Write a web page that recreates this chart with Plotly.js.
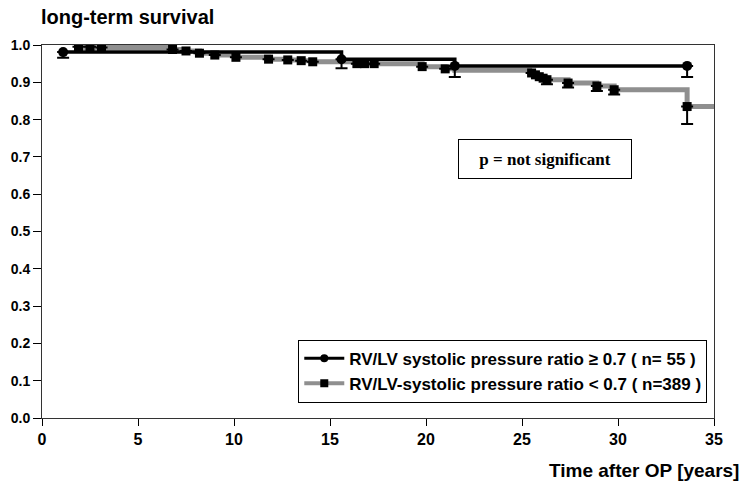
<!DOCTYPE html>
<html><head><meta charset="utf-8">
<script src="https://cdn.plot.ly/plotly-3.0.1.min.js"></script>
<style>body{margin:0;background:#fff}#c{width:745px;height:487px}</style>
</head><body><div id="c"></div>
<script>
// Series 1: RV/LV systolic pressure ratio >= 0.7 (n=55)
const hiStepT = [1.1, 15.6, 21.5, 33.6];
const hiStepS = [0.981, 0.962, 0.944, 0.944];
const hiCensT = [1.1, 15.6, 21.5, 33.6];
const hiCensS = [0.981, 0.962, 0.944, 0.944];
const hiErrLo = [0.015, 0.024, 0.030, 0.030];

// Series 2: RV/LV systolic pressure ratio < 0.7 (n=389)
const loStepT = [1.8, 6.8, 7.5, 8.2, 9.0, 10.1, 11.8, 12.8, 13.5, 14.1, 16.4, 17.3, 19.8, 21.0, 21.5, 25.4, 25.6, 25.8, 26.0, 26.3, 27.4, 28.9, 29.8, 33.6, 35];
const loStepS = [0.993, 0.988, 0.984, 0.978, 0.973, 0.967, 0.962, 0.960, 0.958, 0.955, 0.950, 0.950, 0.942, 0.936, 0.932, 0.925, 0.920, 0.915, 0.911, 0.907, 0.898, 0.890, 0.880, 0.835, 0.835];
const loCensT = [1.9, 2.5, 3.1, 6.8, 7.5, 8.2, 9.0, 10.1, 11.8, 12.8, 13.5, 14.1, 16.4, 16.8, 17.3, 19.8, 21.0, 25.5, 25.7, 25.9, 26.1, 26.3, 27.4, 28.9, 29.8, 33.6];
const loCensS = [0.995, 0.995, 0.993, 0.988, 0.984, 0.978, 0.973, 0.967, 0.962, 0.960, 0.958, 0.955, 0.950, 0.950, 0.950, 0.942, 0.936, 0.925, 0.920, 0.915, 0.911, 0.907, 0.898, 0.890, 0.880, 0.835];
const loErrLo = [0, 0, 0, 0, 0, 0, 0, 0, 0, 0, 0, 0, 0, 0, 0, 0, 0, 0, 0, 0, 0, 0.012, 0.012, 0.013, 0.013, 0.047];

const yTicks = [0, 0.1, 0.2, 0.3, 0.4, 0.5, 0.6, 0.7, 0.8, 0.9, 1.0];
const yTickText = ['0.0','0.1','0.2','0.3','0.4','0.5','0.6','0.7','0.8','0.9','1.0'];
const xTicks = [0, 5, 10, 15, 20, 25, 30, 35];

const hiName = 'RV/LV systolic pressure ratio \u2265 0.7 ( n= 55 )';
const loName = 'RV/LV-systolic pressure ratio < 0.7 ( n=389 )';

const grayCol = '#8f8f8f';
const errStyle = {type:'data', symmetric:false, color:'#000', thickness:2, width:6};

const traces = [
  {x: loStepT, y: loStepS, mode:'lines', line:{shape:'hv', color:grayCol, width:5}, showlegend:false, hoverinfo:'skip'},
  {x: loCensT, y: loCensS, mode:'markers', marker:{symbol:'square', size:9, color:'#000'}, showlegend:false,
   error_y: Object.assign({}, errStyle, {array: loCensT.map(()=>0), arrayminus: loErrLo})},
  {x: hiStepT, y: hiStepS, mode:'lines', line:{shape:'hv', color:'#000', width:3.5}, showlegend:false, hoverinfo:'skip'},
  {x: hiCensT, y: hiCensS, mode:'markers', marker:{symbol:'circle', size:10, color:'#000'}, showlegend:false,
   error_y: Object.assign({}, errStyle, {array: hiCensT.map(()=>0), arrayminus: hiErrLo})},
  // legend entries
  {x:[null], y:[null], mode:'lines+markers', name: hiName, line:{color:'#000', width:3}, marker:{symbol:'circle', size:8, color:'#000'}},
  {x:[null], y:[null], mode:'lines+markers', name: loName, line:{color:grayCol, width:4}, marker:{symbol:'square', size:8, color:'#000'}}
];

const font = 'Arial, "Liberation Sans", sans-serif';
const layout = {
  width:745, height:487,
  margin:{l:42, r:31, t:45, b:69},
  paper_bgcolor:'#fff', plot_bgcolor:'#fff',
  showlegend:true,
  title:{text:'<b>long-term survival</b>', font:{family:font, size:20, color:'#000'}, x:0.055, xanchor:'left', xref:'container', y:0.965, yanchor:'middle'},
  xaxis:{range:[0,35], tickvals:xTicks, ticktext:xTicks.map(v=>'<b>'+v+'</b>'), ticks:'outside', ticklen:7, tickcolor:'#000', showgrid:false, zeroline:false,
         showline:true, linecolor:'#333', linewidth:1, mirror:true,
         tickfont:{family:font, size:16, color:'#000'}, fixedrange:true},
  yaxis:{range:[0,1.0], tickvals:yTicks, ticktext:yTickText.map(t=>'<b>'+t+'</b>'), ticks:'outside', ticklen:8, tickcolor:'#000', showgrid:false, zeroline:false,
         showline:true, linecolor:'#333', linewidth:1, mirror:true,
         tickfont:{family:font, size:14, color:'#000'}, fixedrange:true},
  legend:{x:0.99, xanchor:'right', y:0.21, yanchor:'top', bgcolor:'#fff', bordercolor:'#000', borderwidth:1,
          font:{family:font, size:17, color:'#000', weight:'bold'}, tracegroupgap:0, itemwidth:40},
  annotations:[
    {text:'<b>p = not significant</b>', xref:'paper', yref:'paper', x:0.748, y:0.694, xanchor:'center', yanchor:'middle',
     showarrow:false, font:{family:'"Liberation Serif", "Times New Roman", serif', size:17, color:'#000'},
     bordercolor:'#000', borderwidth:1, width:170, height:36, bgcolor:'#fff'},
    {text:'<b>Time after OP [years]</b>', xref:'paper', yref:'paper', x:1.04, y:-0.142, xanchor:'right', yanchor:'middle',
     showarrow:false, font:{family:font, size:19, color:'#000'}}
  ]
};
Plotly.newPlot('c', traces, layout, {staticPlot:true});
</script>
</body></html>
